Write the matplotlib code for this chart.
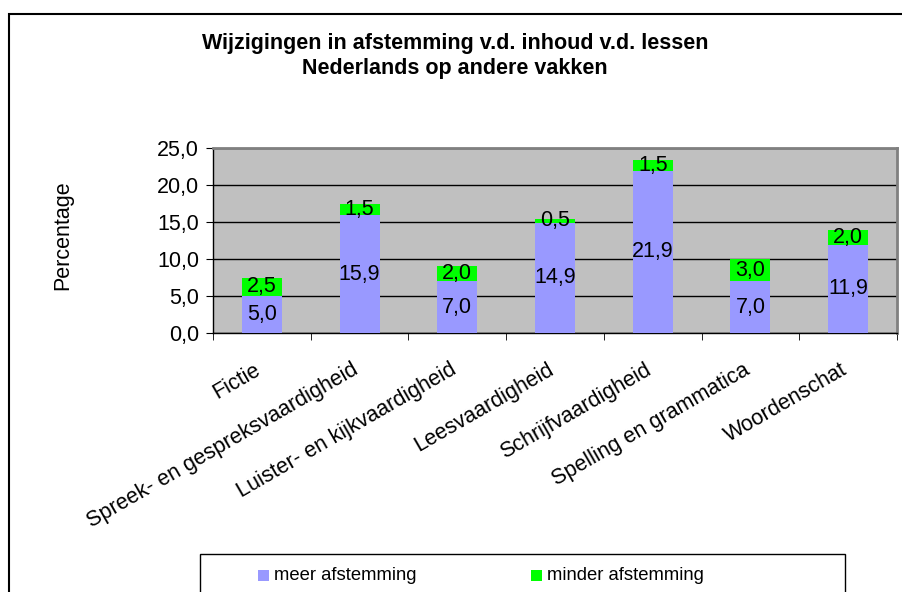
import matplotlib
matplotlib.use("Agg")
import matplotlib.pyplot as plt
import matplotlib.transforms as mtransforms
from matplotlib.patches import Rectangle
import numpy as np

plt.rcParams['font.family'] = ['Liberation Sans', 'DejaVu Sans']

categories = ["Fictie", "Spreek- en gespreksvaardigheid", "Luister- en kijkvaardigheid",
              "Leesvaardigheid", "Schrijfvaardigheid", "Spelling en grammatica", "Woordenschat"]
meer = [5.0, 15.9, 7.0, 14.9, 21.9, 7.0, 11.9]
minder = [2.5, 1.5, 2.0, 0.5, 1.5, 3.0, 2.0]
series_names = ["meer afstemming", "minder afstemming"]
colors = ["#9999FF", "#00FF00"]
yticks = [0, 5, 10, 15, 20, 25]
title = "Wijzigingen in afstemming v.d. inhoud v.d. lessen\nNederlands op andere vakken"

FS = 15.5
W, H = 902, 592
fig = plt.figure(figsize=(W/100, H/100), dpi=100)
fig.patch.set_facecolor("white")

# outer border
fig.patches.append(Rectangle((9/W, -0.1), 2, 1 - 14/H + 0.1, transform=fig.transFigure,
                             fill=False, edgecolor="black", linewidth=1.5))

ax = fig.add_axes([213/W, 1 - 333/H, 684/W, 185/H])
ax.set_facecolor("#C0C0C0")
x = np.arange(len(categories))
ax.bar(x, meer, width=0.41, color=colors[0], zorder=3)
ax.bar(x, minder, width=0.41, bottom=meer, color=colors[1], zorder=3)

def fmt(v):
    return f"{v:.1f}".replace(".", ",")

for i in range(len(categories)):
    ax.text(x[i], meer[i] / 2, fmt(meer[i]), ha="center", va="center", fontsize=FS, zorder=4)
    ax.text(x[i], meer[i] + minder[i] / 2, fmt(minder[i]), ha="center", va="center", fontsize=FS, zorder=4)

ax.set_xlim(-0.5, len(categories) - 0.5)
ax.set_ylim(0, 25)
ax.set_yticks(yticks)
ax.set_yticklabels([fmt(v) for v in yticks], fontsize=FS)
ax.yaxis.grid(True, color="black", linewidth=1)
ax.set_axisbelow(True)

ax.set_xticks(x)
ax.set_xticklabels(categories, rotation=30, ha="right", rotation_mode="anchor", fontsize=FS)
ax.tick_params(axis="x", length=0, pad=19)
offset = mtransforms.ScaledTranslation(-8/100, 0, fig.dpi_scale_trans)
for lab in ax.get_xticklabels():
    lab.set_transform(lab.get_transform() + offset)
ax.set_xticks(np.arange(-0.5, len(categories)), minor=True)
ax.tick_params(axis="x", which="minor", length=5, direction="out", color="black")
ax.tick_params(axis="y", length=5, direction="out", color="black", pad=5)

for s in ["top", "right"]:
    ax.spines[s].set_color("#808080")
    ax.spines[s].set_linewidth(2)
for s in ["left", "bottom"]:
    ax.spines[s].set_color("black")
    ax.spines[s].set_linewidth(1)

fig.text(63/W, 1 - 235/H, "Percentage", rotation=90, ha="center", va="center", fontsize=FS)
fig.text(455/W, 1 - 56/H, title, ha="center", va="center", fontsize=15.5, fontweight="bold",
         linespacing=1.28)

# legend box
fig.patches.append(Rectangle((200/W, 0 - 0.01), 645/W, 38/H + 0.01, transform=fig.transFigure,
                             fill=True, facecolor="white", edgecolor="black", linewidth=1))
leg_x = [258, 531]
for xs, name, c in zip(leg_x, series_names, colors):
    fig.patches.append(Rectangle((xs/W, 1 - 581/H), 11/W, 11/H, transform=fig.transFigure,
                                 facecolor=c, edgecolor="none"))
    fig.text((xs + 16)/W, 1 - 575/H, name, ha="left", va="center", fontsize=13.3)

fig.savefig("out.png", dpi=100)
